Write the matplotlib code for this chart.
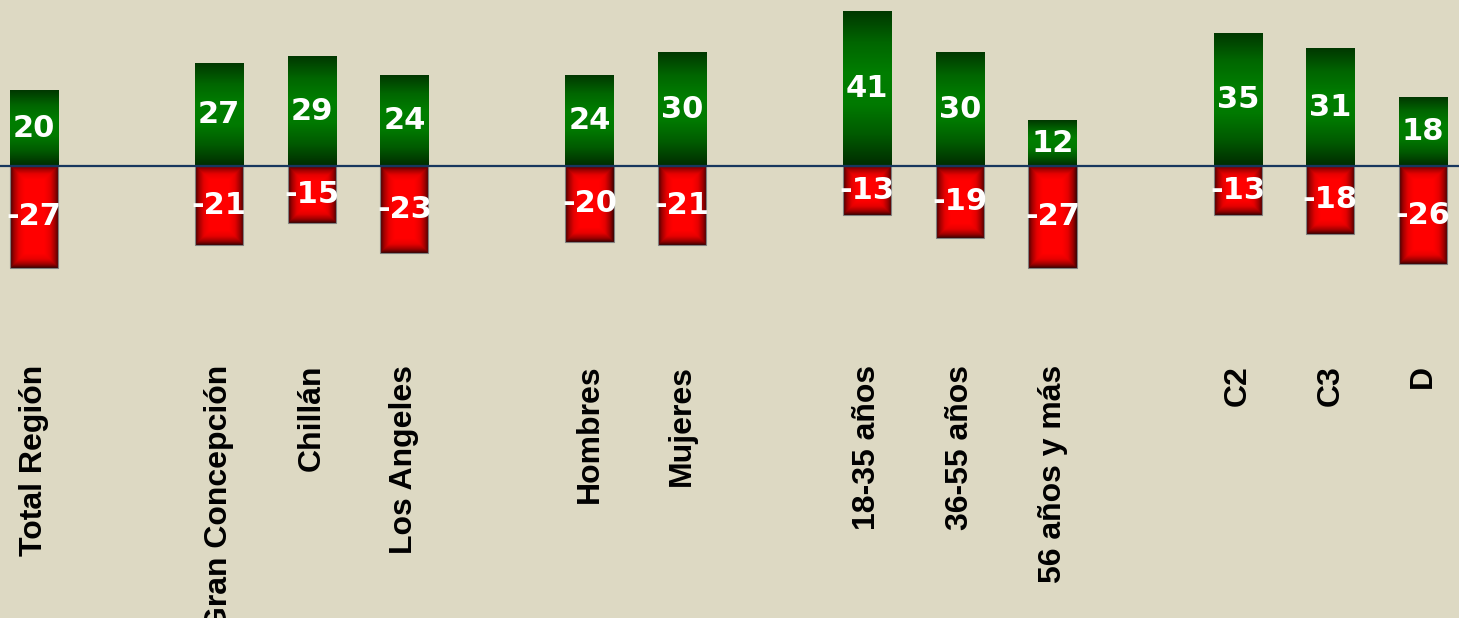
import numpy as np
import matplotlib.pyplot as plt
from matplotlib.colors import LinearSegmentedColormap

categories = ["Total Región", "Gran Concepción", "Chillán", "Los Angeles",
              "Hombres", "Mujeres", "18-35 años", "36-55 años", "56 años y más",
              "C2", "C3", "D"]
slots = [0, 2, 3, 4, 6, 7, 9, 10, 11, 13, 14, 15]
positive = [20, 27, 29, 24, 24, 30, 41, 30, 12, 35, 31, 18]
negative = [-27, -21, -15, -23, -20, -21, -13, -19, -27, -13, -18, -26]

bg = "#DDD9C3"
bar_w = 0.52
px_x = 92.6      # pixels per slot
px_y = 3.78      # pixels per unit

green_cm = LinearSegmentedColormap.from_list(
    "g", ["#002C00", "#005A00", "#007A00", "#007E00", "#006600", "#003800"])
red_cm = LinearSegmentedColormap.from_list(
    "r", ["#400000", "#A00000", "#E80000", "#FF0000"])

fig = plt.figure(figsize=(14.59, 6.18), dpi=100)
fig.patch.set_facecolor(bg)
ax = fig.add_axes([0, 0, 1, 1])
ax.set_facecolor(bg)
ax.set_xlim(-0.367, 15.39)
ax.set_ylim(-119.6, 43.9)
ax.axis("off")

for s, p, n, lab in zip(slots, positive, negative, categories):
    x0, x1 = s - bar_w / 2, s + bar_w / 2
    # green bar: vertical gradient
    grad = np.linspace(0, 1, 200).reshape(-1, 1)
    ax.imshow(grad, cmap=green_cm, aspect="auto", extent=(x0, x1, p, 0),
              origin="upper", zorder=2, interpolation="bilinear")
    # red bar: rectangular glow, dark edges
    hpx = int(abs(n) * px_y)
    wpx = int(bar_w * px_x)
    yy = np.arange(hpx).reshape(-1, 1)
    xx = np.arange(wpx).reshape(1, -1)
    d = np.minimum(np.minimum(xx, wpx - 1 - xx), np.minimum(yy, hpx - 1 - yy))
    glow = np.clip(d / 14.0, 0, 1) ** 0.8
    ax.imshow(glow, cmap=red_cm, aspect="auto", extent=(x0, x1, n, 0),
              origin="upper", zorder=2, interpolation="bilinear")
    ax.add_patch(plt.Rectangle((x0, n), bar_w, -n, fill=False,
                               edgecolor="#7F7F7F", linewidth=0.8, zorder=3))
    ax.text(s, p / 2, str(p), color="white", fontsize=22, fontweight="bold",
            family="DejaVu Sans", ha="center", va="center", zorder=4)
    ax.text(s, n / 2, str(n), color="white", fontsize=22, fontweight="bold",
            family="DejaVu Sans", ha="center", va="center", zorder=4)
    ax.text(s, -52.6, lab, rotation=90, color="black", fontsize=23,
            fontweight="bold", family="Liberation Sans", ha="center",
            va="top", zorder=4)

ax.axhline(0, color="#17375E", linewidth=1.6, zorder=5)

fig.savefig("out.png", dpi=100, facecolor=bg)
